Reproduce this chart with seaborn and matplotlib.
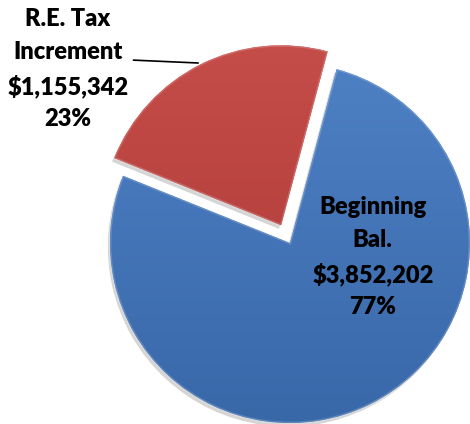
import numpy as np
import matplotlib
matplotlib.use("Agg")
import matplotlib.pyplot as plt
import matplotlib.colors as mcolors
import seaborn as sns

# data
labels = ["R.E. Tax\nIncrement", "Beginning\nBal."]
amounts = [1155342, 3852202]
colors = ["#C4403C", "#4279C4"]
explode = [0.11, 0.0]

sns.set_theme(style="white")
plt.rcParams['font.family'] = ['Lato', 'DejaVu Sans']

fig = plt.figure(figsize=(4.7, 4.24), dpi=100)
ax = fig.add_axes([0, 0, 1, 1])

r_px = 180.0
xlim = (-290 / r_px, (470 - 290) / r_px)
ylim = (-(424 - 243) / r_px, 243 / r_px)

wedges, _ = ax.pie(amounts, colors=colors, explode=explode, startangle=75,
                   counterclock=True, radius=1.0,
                   wedgeprops=dict(linewidth=0))

# soft shadow under the slices
for w in wedges:
    sh = plt.matplotlib.patches.Wedge((w.center[0] - 0.012, w.center[1] - 0.02), w.r, w.theta1, w.theta2,
                                      facecolor='#888888', alpha=0.35, linewidth=0, zorder=0.5)
    ax.add_patch(sh)

# fake the glossy 3d look: gentle vertical gradient clipped to each wedge
grad = np.linspace(0, 1, 256).reshape(-1, 1, 1)
for w, c in zip(wedges, colors):
    base = np.array(mcolors.to_rgb(c))
    light = base + (1 - base) * 0.08
    dark = base * 0.86
    img = np.clip(light * (1 - grad) + dark * grad, 0, 1)
    im = ax.imshow(img, extent=[xlim[0], xlim[1], ylim[0], ylim[1]], origin='upper',
                   aspect='auto', zorder=w.get_zorder() + 0.1, interpolation='bilinear')
    im.set_clip_path(w)
    rim = plt.matplotlib.patches.Wedge(w.center, w.r, w.theta1, w.theta2, facecolor='none',
                                       edgecolor='white', alpha=0.18, linewidth=2.0, zorder=3)
    ax.add_patch(rim)

total = sum(amounts)
pct = [round(100 * a / total) for a in amounts]

# label for the small slice, outside with leader line
ax.text(-1.235, 0.965, f"{labels[0]}\n${amounts[0]:,}\n{pct[0]}%", ha='center', va='center',
        fontsize=17, fontweight='heavy', color='black', linespacing=1.58, zorder=5)
ax.plot([-0.87, -0.51], [1.016, 1.0], color='black', lw=1.2, zorder=5)

# label for the big slice, inside
ax.text(0.46, -0.08, f"{labels[1]}\n${amounts[1]:,}\n{pct[1]}%", ha='center', va='center',
        fontsize=17, fontweight='heavy', color='black', linespacing=1.58, zorder=5)

ax.set_xlim(*xlim)
ax.set_ylim(*ylim)
ax.axis('off')

fig.savefig("out.png", dpi=100, facecolor='white')
